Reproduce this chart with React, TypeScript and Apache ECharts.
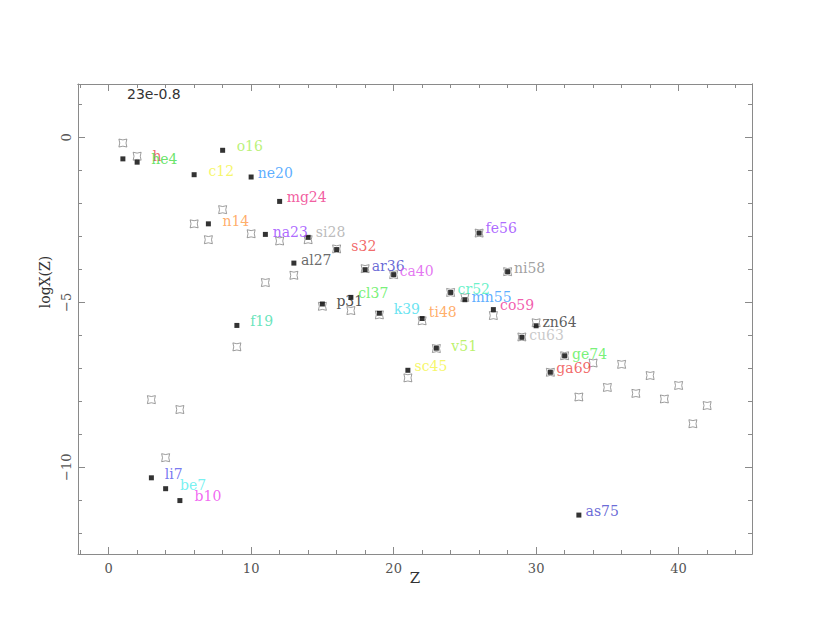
import React, { useEffect, useRef } from "react";
import * as echarts from "echarts";

// ---- data ----
const filledZ = [1, 2, 3, 4, 5, 6, 7, 8, 9, 10, 11, 12, 13, 14, 15, 16, 17, 18, 19, 20, 21, 22, 23, 24, 25, 26, 27, 28, 29, 30, 31, 32, 33];
const filledLogX = [-0.65, -0.75, -10.32, -10.65, -11.01, -1.13, -2.62, -0.39, -5.7, -1.2, -2.94, -1.94, -3.81, -3.03, -5.05, -3.4, -4.85, -4.01, -5.33, -4.16, -7.06, -5.49, -6.39, -4.7, -4.92, -2.9, -5.22, -4.07, -6.06, -5.71, -7.12, -6.62, -11.45];
const isotopeLabels = ["h", "he4", "li7", "be7", "b10", "c12", "n14", "o16", "f19", "ne20", "na23", "mg24", "al27", "si28", "p31", "s32", "cl37", "ar36", "k39", "ca40", "sc45", "ti48", "v51", "cr52", "mn55", "fe56", "co59", "ni58", "cu63", "zn64", "ga69", "ge74", "as75"];

const openZ = [1, 2, 3, 4, 5, 6, 7, 8, 9, 10, 11, 12, 13, 14, 15, 16, 17, 18, 19, 20, 21, 22, 23, 24, 25, 26, 27, 28, 29, 30, 31, 32, 33, 34, 35, 36, 37, 38, 39, 40, 41, 42];
const openLogX = [-0.17, -0.57, -7.95, -9.71, -8.25, -2.62, -3.1, -2.19, -6.35, -2.92, -4.4, -3.14, -4.18, -3.1, -5.12, -3.38, -5.25, -3.98, -5.38, -4.16, -7.29, -5.56, -6.4, -4.7, -4.85, -2.9, -5.4, -4.07, -6.05, -5.62, -7.12, -6.62, -7.87, -6.84, -7.58, -6.88, -7.76, -7.22, -7.93, -7.52, -8.68, -8.13];

const xMajorTicks = [0, 10, 20, 30, 40];
const xMinorTicks = [-2, 0, 2, 4, 6, 8, 10, 12, 14, 16, 18, 20, 22, 24, 26, 28, 30, 32, 34, 36, 38, 40, 42, 44];
const yMajorTicks = [-10, -5, 0];
const yMinorTicks = [-12, -11, -10, -9, -8, -7, -6, -5, -4, -3, -2, -1, 0, 1];

const annotationText = "23e-0.8";
const xName = "Z";
const yName = "logX(Z)";

// ---- styles ----
const labelColors = ["#ee4444", "#44dd44", "#5555ee", "#55eeee", "#ee44ee", "#f4f444", "#ff9944", "#a8ee55", "#44ddaa", "#3399ff", "#9944ff", "#ee3388", "#444444", "#aaaaaa", "#222222", "#ee4444", "#55ee55", "#4444cc", "#44ddee", "#dd55ee", "#f4f444", "#ff9944", "#aaee44", "#44eebb", "#3399ff", "#9944ff", "#ee3399", "#888888", "#bbbbbb", "#333333", "#ee4444", "#55ee55", "#4444cc"];
const labelDx = [30.5, 15, 14.3, 15.3, 15.7, 15.3, 15, 15, 14.3, 7.6, 8.3, 8, 8, 8.7, 15, 15.7, 8.3, 7.6, 15.3, 7, 7.7, 7.7, 16, 8, 7.7, 7.4, 7.7, 7.3, 8.3, 7.3, 7, 8.4, 7.7];
const labelDy = [-2.5, -3, -4, -3.3, -4.3, -4, -3.3, -4.7, -4.7, -4, -2.4, -4.4, -3.3, -5, -2.6, -3.3, -4.4, -3.3, -4.7, -4, -4, -7, -2, -3, -2.6, -5, -5, -3.3, -2.7, -4, -4.4, -2, -4];

const X_MIN = -2.15;
const X_MAX = 45.15;
const Y_MIN = -12.63;
const Y_MAX = 1.62;
const AXIS_COLOR = "#8a8a8a";
const SERIF = "DejaVu Serif";
const concaveSquare = "path://M0,0Q5,2.2 10,0Q7.8,5 10,10Q5,7.8 0,10Q2.2,5 0,0Z";

function xAxisDef(position: string, values: number[], len: number, main: boolean) {
  return {
    type: "value",
    position,
    min: X_MIN,
    max: X_MAX,
    name: main ? xName : "",
    nameLocation: "middle",
    nameGap: 16,
    nameMoveOverlap: false,
    nameTextStyle: { fontFamily: SERIF, fontSize: 15, color: "#333" },
    axisLine: { show: main || position === "top", onZero: false, lineStyle: { color: AXIS_COLOR, width: 1 } },
    axisTick: { show: true, inside: true, length: len, customValues: values, lineStyle: { color: AXIS_COLOR, width: 1 } },
    axisLabel: main
      ? { show: true, customValues: values, margin: 8, color: "#555", fontFamily: SERIF, fontSize: 13 }
      : { show: false },
    splitLine: { show: false },
  };
}

function yAxisDef(position: string, values: number[], len: number, main: boolean) {
  return {
    type: "value",
    position,
    min: Y_MIN,
    max: Y_MAX,
    axisLine: { show: main || position === "right", onZero: false, lineStyle: { color: AXIS_COLOR, width: 1 } },
    axisTick: { show: true, inside: true, length: len, customValues: values, lineStyle: { color: AXIS_COLOR, width: 1 } },
    axisLabel: main
      ? {
          show: true,
          customValues: values,
          rotate: 90,
          margin: 5,
          color: "#555",
          fontFamily: SERIF,
          fontSize: 13,
          formatter: (v: number) => String(v).replace("-", "\u2212"),
        }
      : { show: false },
    splitLine: { show: false },
  };
}

export default function App() {
  const ref = useRef<HTMLDivElement>(null);

  useEffect(() => {
    if (!ref.current) return;
    const chart = echarts.init(ref.current, undefined, { renderer: "svg" });

    const openData = openZ.map((z, i) => [z, openLogX[i]]);
    const filledData = filledZ.map((z, i) => ({
      value: [z, filledLogX[i]],
      name: isotopeLabels[i],
      label: {
        show: true,
        position: "right",
        distance: labelDx[i] - 3.5,
        offset: [0, labelDy[i]],
        color: labelColors[i],
        fontFamily: SERIF,
        fontSize: 14,
        formatter: "{b}",
      },
    }));

    chart.setOption({
      animation: false,
      backgroundColor: "#ffffff",
      grid: { left: 78, right: 78, top: 84, bottom: 86, containLabel: false },
      xAxis: [
        xAxisDef("bottom", xMajorTicks, 7, true),
        xAxisDef("bottom", xMinorTicks, 4, false),
        xAxisDef("top", xMajorTicks, 7, false),
        xAxisDef("top", xMinorTicks, 4, false),
      ],
      yAxis: [
        yAxisDef("left", yMajorTicks, 7, true),
        yAxisDef("left", yMinorTicks, 4, false),
        yAxisDef("right", yMajorTicks, 7, false),
        yAxisDef("right", yMinorTicks, 4, false),
      ],
      graphic: [
        {
          type: "text",
          x: 127,
          y: 94,
          style: {
            text: annotationText,
            fontFamily: "DejaVu Sans",
            fontSize: 14,
            fill: "#333",
            align: "left",
            verticalAlign: "middle",
          },
        },
        {
          type: "text",
          x: 45,
          y: 282,
          rotation: Math.PI / 2,
          style: {
            text: yName,
            fontFamily: SERIF,
            fontSize: 14,
            fill: "#333",
            align: "center",
            verticalAlign: "middle",
          },
        },
      ],
      series: [
        {
          type: "scatter",
          xAxisIndex: 0,
          yAxisIndex: 0,
          data: openData,
          symbol: concaveSquare,
          symbolSize: 8,
          itemStyle: { color: "rgba(0,0,0,0)", borderColor: "#777", borderWidth: 0.9 },
          z: 2,
        },
        {
          type: "scatter",
          xAxisIndex: 0,
          yAxisIndex: 0,
          data: filledData,
          symbol: "rect",
          symbolSize: 5,
          itemStyle: { color: "#000" },
          z: 3,
        },
      ],
    });

    return () => chart.dispose();
  }, []);

  return (
    <div
      ref={ref}
      style={{ position: "fixed", left: 0, top: 0, width: 830, height: 640 }}
    />
  );
}
